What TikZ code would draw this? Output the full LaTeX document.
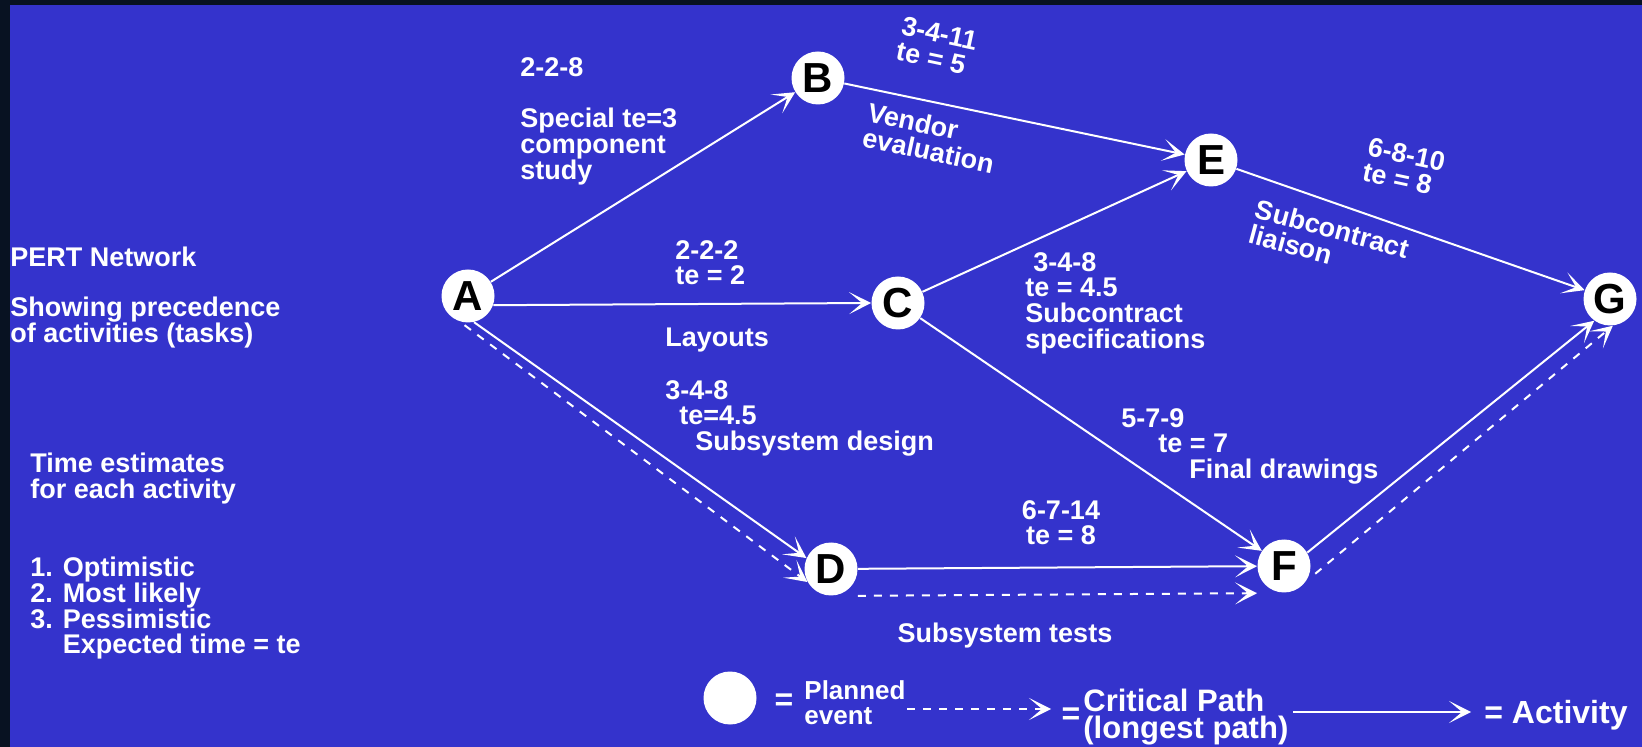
\documentclass[tikz,border=0pt]{standalone}
\usepackage{fontspec}
\setmainfont{Liberation Sans}
\usetikzlibrary{arrows.meta}
\definecolor{slide}{RGB}{52,51,204}
\definecolor{rim}{RGB}{8,18,34}

\begin{document}
\begin{tikzpicture}[x=0.5pt,y=-0.5pt,
  event/.style={circle,fill=white,inner sep=0pt,minimum size=26.5pt,
    font=\fontsize{21}{21}\selectfont\bfseries},
  lbl/.style={text=white,inner sep=0pt,align=left,
    font=\fontsize{13.5}{12.8}\selectfont\bfseries},
  act/.style={draw=white,line width=1pt,
    -{Stealth[length=11pt,width=11pt,inset=6.5pt]}},
  crit/.style={act,dash pattern=on 4pt off 4pt}]
% slide background
\fill[rim] (0,0) rectangle (1642,747);
\fill[slide] (10,5) rectangle (1642,747);
% events
\node[event] (A) at (468,296) {A};
\node[event] (B) at (818,78) {B};
\node[event] (C) at (898,303) {C};
\node[event] (D) at (831,569) {D};
\node[event] (E) at (1211,160) {E};
\node[event] (F) at (1284,566) {F};
\node[event] (G) at (1610,299) {G};
% activities
\draw[act] (A) -- (B);
\draw[act] (B) -- (E);
\draw[act] (A.-20) -- (C.west);
\draw[act] (C) -- (E);
\draw[act] (C) -- (F);
\draw[act] (E) -- (G);
\draw[act] (A.-77) -- (D.156);
\draw[act] (D) -- (F);
\draw[act] (F.30) -- (G.-126);
% critical path
\draw[crit,shorten <=3pt] (A.-108) -- (D.-151);
\draw[crit,transform canvas={yshift=-13.5pt}] (D) -- (F);
\draw[crit,shorten <=6pt] (F.-35) -- (G.-84);
% activity labels
\node[lbl,anchor=north west] (ab1) at (520,57) {2-2-8};
\node[lbl,anchor=north west] (ab2) at (520,108) {Special te=3\\component\\study};
\node[lbl,rotate=-12] (be1) at (937,46) {3-4-11\\te = 5};
\node[lbl,rotate=-12] (be2) at (931,138) {Vendor\\evaluation};
\node[lbl,anchor=north west] (ac1) at (675,240) {2-2-2\\te = 2};
\node[lbl,anchor=north west] (ac2) at (665,328) {Layouts};
\node[lbl,anchor=north west] (ad) at (665,380) {3-4-8\\\hspace*{7pt}te=4.5\\\hspace*{15pt}Subsystem design};
\node[lbl,anchor=north west] (ce) at (1025,252) {\hspace*{4pt}3-4-8\\te = 4.5\\Subcontract\\specifications};
\node[lbl,rotate=-12] (eg1) at (1404,167) {6-8-10\\te = 8};
\node[lbl,rotate=-15] (eg2) at (1329,241) {Subcontract\\liaison};
\node[lbl,anchor=north west] (cf) at (1121,408) {5-7-9\\\hspace*{18.5pt}te = 7\\\hspace*{34pt}Final drawings};
\node[lbl,anchor=north,align=center] (df1) at (1061,500) {6-7-14\\te = 8};
\node[lbl,anchor=north] (df2) at (1005,623) {Subsystem tests};
% side notes
\node[lbl,anchor=north west] (title) at (10,247) {PERT Network};
\node[lbl,anchor=north west] (prec) at (10,297) {Showing precedence\\of activities (tasks)};
\node[lbl,anchor=north west] (est) at (30,453) {Time estimates\\for each activity};
\node[lbl,anchor=north west] (kinds) at (30,557) {1. Optimistic\\2. Most likely\\3. Pessimistic\\\phantom{1. }Expected time = te};
% legend
\node[event] (ev) at (730,698) {};
\node[lbl,font=\fontsize{16}{16}\selectfont\bfseries] (eq1) at (784,702) {=};
\node[lbl,anchor=west,font=\fontsize{13}{12.5}\selectfont\bfseries] (planned) at (804,703) {Planned\\event};
\coordinate (c1) at (907,709);
\coordinate (c2) at (1051,709);
\draw[crit] (c1) -- (c2);
\node[lbl,font=\fontsize{16}{16}\selectfont\bfseries] (eq2) at (1071,716) {=};
\node[lbl,anchor=west,font=\fontsize{15.5}{13.5}\selectfont\bfseries] (critlbl) at (1083,717) {Critical Path\\(longest path)};
\coordinate (a1) at (1293,712);
\coordinate (a2) at (1471,712);
\draw[act] (a1) -- (a2);
\node[lbl,anchor=west,font=\fontsize{16}{16}\selectfont\bfseries] (actlbl) at (1484,715) {= Activity};
\end{tikzpicture}
\end{document}
